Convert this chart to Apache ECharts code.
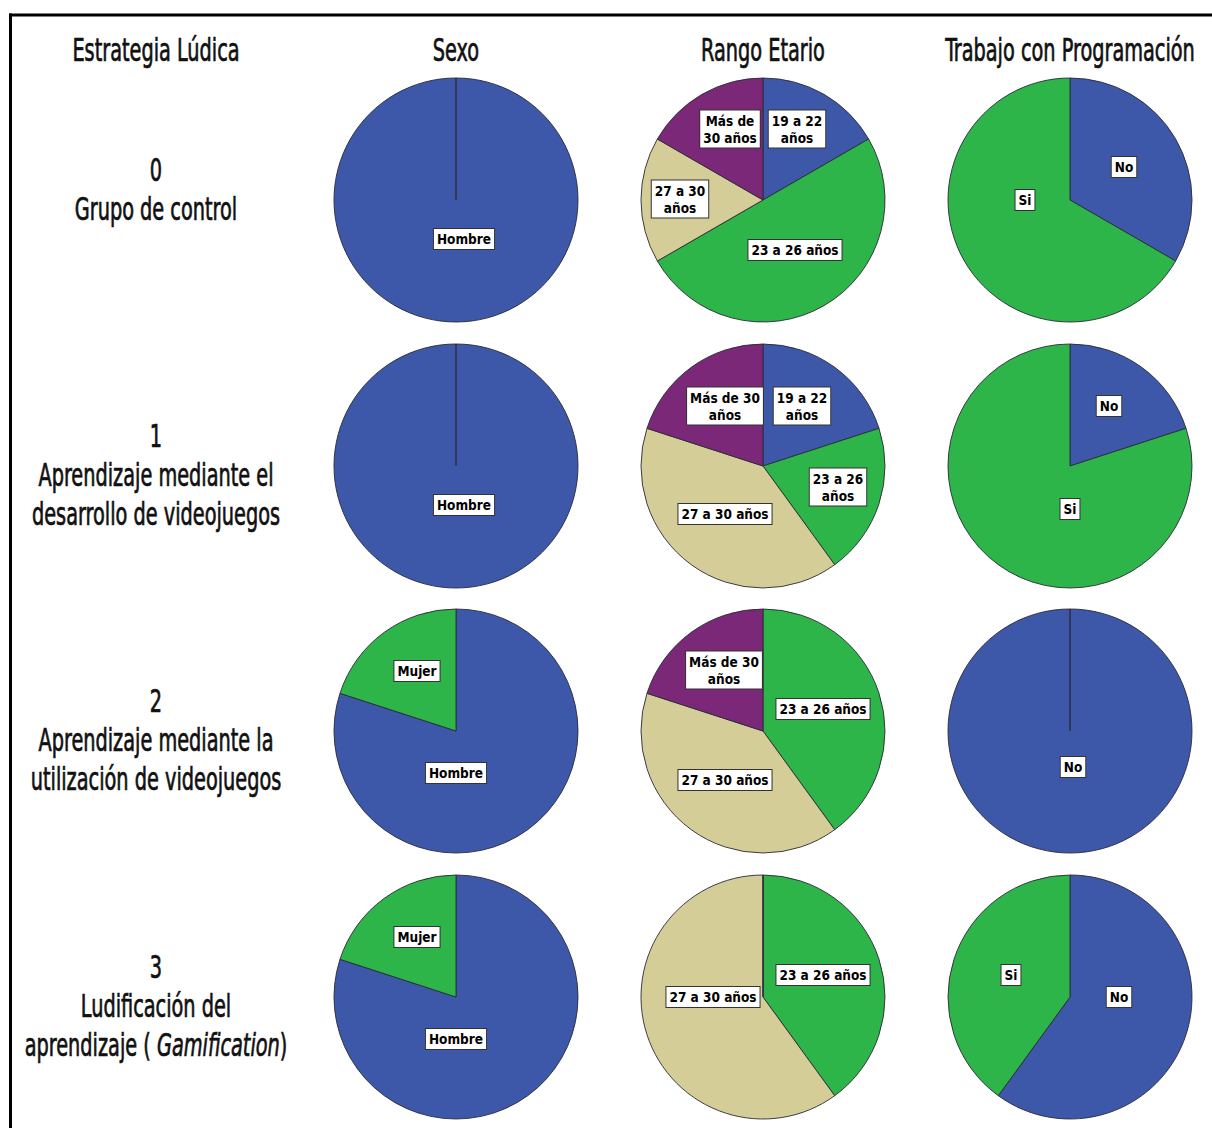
<!DOCTYPE html>
<html>
<head>
<meta charset="utf-8">
<script src="https://cdn.jsdelivr.net/npm/echarts@6/dist/echarts.min.js"></script>
<style>
  html, body { margin: 0; padding: 0; background: #ffffff; }
  #chart { width: 1212px; height: 1128px; }
</style>
</head>
<body>
<div id="chart"></div>
<script>
// ---- Table headings ----
const columnTitles = ['Estrategia Lúdica', 'Sexo', 'Rango Etario', 'Trabajo con Programación'];
const strategyCodes = ['0', '1', '2', '3'];
const strategyNames = [
  ['Grupo de control'],
  ['Aprendizaje mediante el', 'desarrollo de videojuegos'],
  ['Aprendizaje mediante la', 'utilización de videojuegos'],
  ['Ludificación del', 'aprendizaje ( Gamification)']
];

// ---- Counts per strategy (rows 0..3) ----
const sexoCategories = ['Hombre', 'Mujer'];
const sexoCounts = [[6, 0], [5, 0], [4, 1], [4, 1]];

const edadCategories = ['19 a 22 años', '23 a 26 años', '27 a 30 años', 'Más de 30 años'];
const edadCounts = [[1, 3, 1, 1], [1, 1, 2, 1], [0, 2, 2, 1], [0, 2, 3, 0]];

const programaCategories = ['No', 'Si'];
const programaCounts = [[2, 4], [1, 4], [5, 0], [3, 2]];

// ---- Presentation ----
const FONT = "'Liberation Sans Narrow', 'DejaVu Sans Condensed', 'Arial Narrow', sans-serif";
const BLUE = '#3e58a9', GREEN = '#2eb54a', BEIGE = '#d4cd98', PURPLE = '#7b2878';
const sexoColors = [BLUE, GREEN];
const edadColors = [BLUE, GREEN, BEIGE, PURPLE];
const programaColors = [BLUE, GREEN];

const colX = [156, 456, 763, 1070];
const rowY = [200, 466, 731, 997];
const pieRadius = 122;

// where each slice label box sits, relative to its pie centre (px)
const sexoLabelAt = [
  [[8, 39], null], [[8, 39], null], [[0, 42], [-39, -60]], [[0, 42], [-39, -60]]
];
const edadLabelAt = [
  [[34, -71], [32, 50], [-83, -1], [-33, -71]],
  [[39, -60], [75, 21], [-38, 48], [-38, -60]],
  [null, [60, -22], [-38, 49], [-39, -61]],
  [null, [60, -22], [-50, 0], null]
];
const programaLabelAt = [
  [[54, -33], [-45, 0]], [[39, -60], [0, 43]], [[3, 36], null], [[49, 0], [-59, -22]]
];
// line breaks inside the label boxes
const edadLabelWrap = [
  { '19 a 22 años': '19 a 22\naños', '27 a 30 años': '27 a 30\naños', 'Más de 30 años': 'Más de\n30 años' },
  { '19 a 22 años': '19 a 22\naños', '23 a 26 años': '23 a 26\naños', 'Más de 30 años': 'Más de 30\naños' },
  { 'Más de 30 años': 'Más de 30\naños' },
  {}
];

function makePie(categories, values, colors, cx, cy, labelAt, wrap) {
  return {
    type: 'pie',
    silent: true,
    animation: false,
    center: [cx, cy],
    radius: [0, pieRadius],
    startAngle: 90,
    clockwise: true,
    minShowLabelAngle: 0.5,
    avoidLabelOverlap: false,
    itemStyle: { borderColor: '#2a2a38', borderWidth: 0.9 },
    label: {
      show: true,
      position: 'inside',
      formatter: (p) => (wrap && wrap[p.name]) || p.name,
      fontFamily: FONT,
      fontWeight: 'bold',
      fontSize: 13.5,
      lineHeight: 17,
      color: '#000',
      backgroundColor: '#ffffff',
      borderColor: '#333333',
      borderWidth: 1,
      padding: [2, 3, 1, 3],
      align: 'center',
      verticalAlign: 'middle'
    },
    labelLine: { show: false },
    labelLayout: (params) => {
      const o = labelAt[params.dataIndex];
      if (!o) return {};
      return { x: cx + o[0], y: cy + o[1], align: 'center', verticalAlign: 'middle' };
    },
    emphasis: { disabled: true },
    data: categories.map((name, i) => ({
      name: name,
      value: values[i],
      itemStyle: { color: colors[i] }
    }))
  };
}

const series = [];
for (let r = 0; r < 4; r++) {
  series.push(makePie(sexoCategories, sexoCounts[r], sexoColors, colX[1], rowY[r], sexoLabelAt[r], null));
  series.push(makePie(edadCategories, edadCounts[r], edadColors, colX[2], rowY[r], edadLabelAt[r], edadLabelWrap[r]));
  series.push(makePie(programaCategories, programaCounts[r], programaColors, colX[3], rowY[r], programaLabelAt[r], null));
}

// headings and frame (condensed, tall, medium-weight lettering)
const TEXT_SIZE = 26.5, STRETCH_Y = 1.2, SQUEEZE_X = 0.81;
const headingStyle = { fontFamily: FONT, fontSize: TEXT_SIZE, fill: '#111', stroke: '#111', lineWidth: 0.6 };
const graphics = [
  { type: 'line', shape: { x1: 9, y1: 15, x2: 1212, y2: 15 }, style: { stroke: '#000', lineWidth: 3 } },
  { type: 'line', shape: { x1: 10.5, y1: 13.5, x2: 10.5, y2: 1128 }, style: { stroke: '#000', lineWidth: 3 } }
];
columnTitles.forEach((t, i) => {
  graphics.push({
    type: 'text', x: colX[i], y: 50, scaleX: SQUEEZE_X, scaleY: STRETCH_Y,
    style: Object.assign({ text: t, align: 'center', verticalAlign: 'middle' }, headingStyle)
  });
});
const rowTextY = [189.5, 474.5, 740, 1005.5];
strategyCodes.forEach((code, r) => {
  const lines = [code].concat(strategyNames[r]).map(s => s.replace('Gamification', '{it|Gamification}'));
  graphics.push({
    type: 'text', x: colX[0], y: rowTextY[r], scaleX: SQUEEZE_X, scaleY: STRETCH_Y,
    style: Object.assign({
      text: lines.join('\n'), lineHeight: 39 / STRETCH_Y, align: 'center', verticalAlign: 'middle',
      rich: { it: Object.assign({ fontStyle: 'italic', lineHeight: 39 / STRETCH_Y }, headingStyle) }
    }, headingStyle)
  });
});

const chart = echarts.init(document.getElementById('chart'), null, { renderer: 'svg' });
chart.setOption({
  backgroundColor: '#ffffff',
  animation: false,
  series: series,
  graphic: graphics
});
</script>
</body>
</html>
